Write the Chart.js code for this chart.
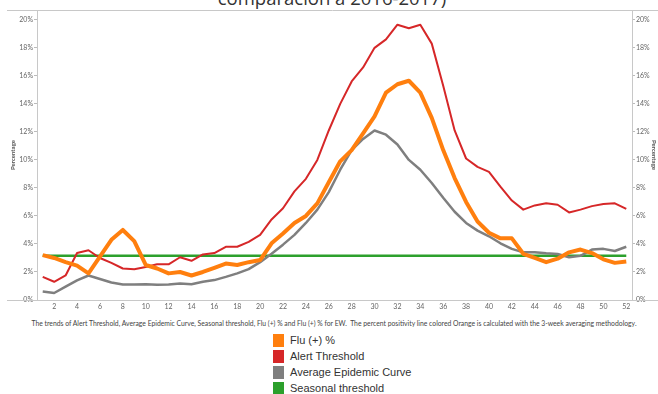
<!DOCTYPE html>
<html>
<head>
<meta charset="utf-8">
<script src="https://cdn.jsdelivr.net/npm/chart.js@4.4.1/dist/chart.umd.min.js"></script>
<style>
    html, body { margin: 0; padding: 0; background: #fff; }
    #wrap { position: relative; width: 658px; height: 394px; overflow: hidden; background: #fff; }
    #title { position: absolute; left: 0; width: 664px; top: -12px; text-align: center;
             font-family: "Open Sans", sans-serif; font-size: 18.5px; line-height: 19px; color: #333; white-space: nowrap; }
    #flu-chart { position: absolute; left: 0; top: 0; }
    #caption { position: absolute; left: 0; width: 668px; top: 319px; text-align: center;
               font-family: "Lato", sans-serif; font-size: 6.8px; line-height: 8px; color: #444; white-space: nowrap; }
    #legend { position: absolute; left: 273px; top: 332px; margin: 0; padding: 0; list-style: none; }
    #legend li { height: 16px; display: flex; align-items: center; font-family: "Liberation Sans Narrow", "Liberation Sans", sans-serif;
                 font-size: 11px; color: #333; white-space: nowrap; }
    #legend span.box { display: inline-block; width: 11px; height: 13px; margin-right: 6px; }
</style>
</head>
<body>
<div id="wrap">
    <div id="title">comparación a 2016-2017)</div>
    <canvas id="flu-chart" width="658" height="318"></canvas>
    <div id="caption">The trends of Alert Threshold, Average Epidemic Curve, Seasonal threshold, Flu (+) % and Flu (+) % for EW.&nbsp; The percent positivity line colored Orange is calculated with the 3-week averaging methodology.</div>
    <ul id="legend"></ul>
</div>
<script>
// Epidemiological weeks
var weeks = [1, 2, 3, 4, 5, 6, 7, 8, 9, 10, 11, 12, 13, 14, 15, 16, 17, 18, 19, 20, 21, 22, 23, 24, 25, 26,
             27, 28, 29, 30, 31, 32, 33, 34, 35, 36, 37, 38, 39, 40, 41, 42, 43, 44, 45, 46, 47, 48, 49, 50, 51, 52];

// Flu (+) % (3-week average)
var fluPositive = [3.2, 3.0, 2.7, 2.45, 1.9, 3.1, 4.3, 5.0, 4.2, 2.5, 2.25, 1.9, 2.0, 1.75, 2.0, 2.3, 2.6, 2.5, 2.7, 2.85,
                   4.05, 4.75, 5.5, 6.0, 6.9, 8.4, 9.9, 10.7, 11.9, 13.1, 14.8, 15.4, 15.65, 14.8, 13.0, 10.7, 8.7, 7.0,
                   5.6, 4.8, 4.4, 4.4, 3.3, 3.0, 2.7, 2.95, 3.4, 3.6, 3.35, 2.9, 2.65, 2.75];

// Alert threshold
var alertThreshold = [1.65, 1.3, 1.75, 3.35, 3.55, 3.0, 2.65, 2.25, 2.2, 2.35, 2.55, 2.55, 3.05, 2.8, 3.25, 3.35, 3.8, 3.8,
                      4.15, 4.65, 5.75, 6.55, 7.75, 8.65, 10.0, 12.1, 14.0, 15.6, 16.6, 18.0, 18.6, 19.65, 19.4, 19.65,
                      18.3, 15.3, 12.1, 10.1, 9.5, 9.15, 8.1, 7.1, 6.45, 6.75, 6.9, 6.8, 6.25, 6.45, 6.7, 6.85, 6.9, 6.5];

// Average epidemic curve
var averageCurve = [0.6, 0.5, 0.95, 1.4, 1.75, 1.5, 1.25, 1.1, 1.1, 1.12, 1.08, 1.1, 1.18, 1.12, 1.3, 1.42, 1.65, 1.9, 2.2,
                    2.7, 3.3, 3.95, 4.65, 5.5, 6.45, 7.7, 9.3, 10.7, 11.5, 12.1, 11.8, 11.1, 10.0, 9.3, 8.35, 7.3, 6.3,
                    5.5, 4.95, 4.55, 4.05, 3.65, 3.4, 3.4, 3.33, 3.28, 3.05, 3.15, 3.6, 3.65, 3.5, 3.8];

// Seasonal threshold (flat)
var seasonalThreshold = [3.15, 3.15, 3.15, 3.15, 3.15, 3.15, 3.15, 3.15, 3.15, 3.15, 3.15, 3.15, 3.15, 3.15, 3.15, 3.15,
                         3.15, 3.15, 3.15, 3.15, 3.15, 3.15, 3.15, 3.15, 3.15, 3.15, 3.15, 3.15, 3.15, 3.15, 3.15, 3.15,
                         3.15, 3.15, 3.15, 3.15, 3.15, 3.15, 3.15, 3.15, 3.15, 3.15, 3.15, 3.15, 3.15, 3.15, 3.15, 3.15,
                         3.15, 3.15, 3.15, 3.15];

var seriesNames = ['Flu (+) %', 'Alert Threshold', 'Average Epidemic Curve', 'Seasonal threshold'];
var seriesColors = ['#ff7f0e', '#d62728', '#7f7f7f', '#2ca02c'];
var seriesWidths = [4, 2, 2.5, 2.5];
var seriesData = [fluPositive, alertThreshold, averageCurve, seasonalThreshold];

// y ticks 0% .. 20%, every 2
var yTickValues = [0, 2, 4, 6, 8, 10, 12, 14, 16, 18, 20];

var frameColor = '#c8c8c8';

// Draws the outer frame lines that run past the plot area
var framePlugin = {
    id: 'frame',
    beforeDatasetsDraw: function(chart) {
        var ctx = chart.ctx;
        var a = chart.chartArea;
        ctx.save();
        ctx.strokeStyle = frameColor;
        ctx.lineWidth = 1;
        ctx.beginPath();
        ctx.moveTo(7, Math.round(a.top) + 0.5);
        ctx.lineTo(658, Math.round(a.top) + 0.5);
        ctx.moveTo(7, Math.round(a.bottom) + 0.5);
        ctx.lineTo(658, Math.round(a.bottom) + 0.5);
        ctx.moveTo(Math.round(a.left) + 0.5, a.top);
        ctx.lineTo(Math.round(a.left) + 0.5, a.bottom);
        ctx.moveTo(Math.round(a.right) + 0.5, a.top);
        ctx.lineTo(Math.round(a.right) + 0.5, a.bottom);
        ctx.stroke();
        ctx.restore();
    }
};

function percentAxis(position, width, titlePad) {
    return {
        position: position,
        min: 0,
        max: 20.7,
        afterBuildTicks: function(scale) {
            scale.ticks = yTickValues.map(function(v) { return { value: v }; });
        },
        afterFit: function(scale) { scale.width = width; },
        ticks: {
            callback: function(v) { return v + '%'; },
            font: { family: 'Lato', size: 7 },
            color: '#666',
            padding: 1
        },
        grid: { drawOnChartArea: false, drawTicks: true, tickLength: 3, color: '#bbb' },
        border: { display: false },
        title: {
            display: true,
            text: 'Percentage',
            font: { family: 'Lato', size: 6, weight: 'bold' },
            color: '#555',
            padding: { top: titlePad, bottom: 0 }
        }
    };
}

var datasets = [];
for (var i = 0; i < seriesNames.length; i++) {
    datasets.push({
        label: seriesNames[i],
        data: seriesData[i],
        borderColor: seriesColors[i],
        backgroundColor: seriesColors[i],
        borderWidth: seriesWidths[i],
        pointRadius: 0,
        tension: 0,
        fill: false,
        borderJoinStyle: 'round'
    });
}

var ctx = document.getElementById('flu-chart').getContext('2d');
window.fluChart = new Chart(ctx, {
    type: 'line',
    data: { labels: weeks, datasets: datasets },
    options: {
        responsive: false,
        animation: false,
        devicePixelRatio: 1,
        layout: { padding: { top: 10, left: 0, right: 0, bottom: 0 } },
        plugins: { legend: { display: false }, tooltip: { enabled: false } },
        scales: {
            x: {
                type: 'category',
                offset: true,
                afterFit: function(scale) { scale.height = 18; },
                grid: { display: false, drawTicks: false },
                border: { display: false },
                ticks: {
                    autoSkip: false,
                    maxRotation: 0,
                    padding: 3,
                    font: { family: 'Lato', size: 7 },
                    color: '#666',
                    callback: function(v, i) { return weeks[i] % 2 === 0 ? String(weeks[i]) : ''; }
                }
            },
            y: percentAxis('left', 37, 9),
            y2: percentAxis('right', 26, 0)
        }
    },
    plugins: [framePlugin]
});

// Legend list under the chart
var legend = document.getElementById('legend');
for (var j = 0; j < seriesNames.length; j++) {
    var li = document.createElement('li');
    var box = document.createElement('span');
    box.className = 'box';
    box.style.background = seriesColors[j];
    li.appendChild(box);
    li.appendChild(document.createTextNode(seriesNames[j]));
    legend.appendChild(li);
}
</script>
</body>
</html>
